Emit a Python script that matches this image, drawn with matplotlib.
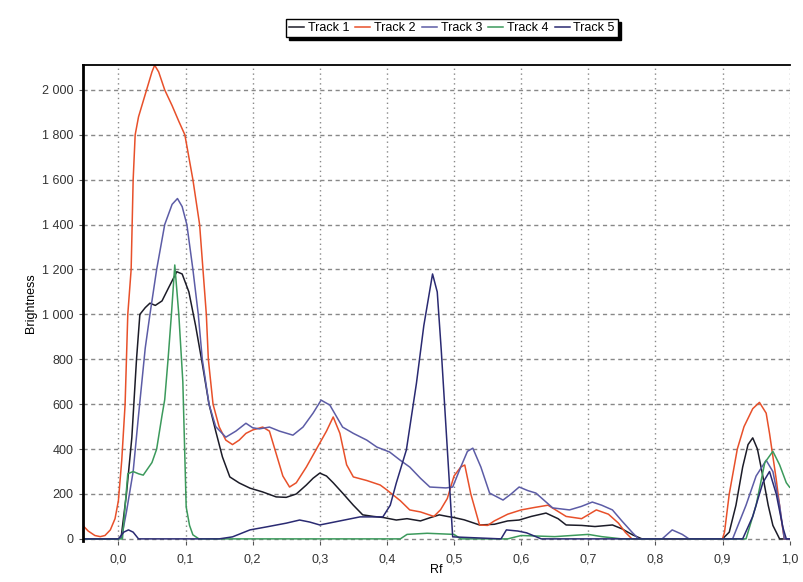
import matplotlib
matplotlib.use("Agg")
import matplotlib.pyplot as plt
from matplotlib.ticker import FuncFormatter, MultipleLocator

plt.rcParams['font.family'] = ['Liberation Sans', 'DejaVu Sans']

labels = ["Track 1", "Track 2", "Track 3", "Track 4", "Track 5"]
colors = ["#1c1c28", "#e8502a", "#5c5ca6", "#3c9a5c", "#2a2a72"]

# Track 1 (black)
x1 = [-0.053, 0.0, 0.004, 0.012, 0.02, 0.027, 0.032, 0.04, 0.047, 0.055, 0.065, 0.075, 0.087,
      0.095, 0.105, 0.115, 0.125, 0.135, 0.145, 0.155, 0.166, 0.18, 0.196, 0.215, 0.235, 0.25,
      0.265, 0.28, 0.29, 0.30, 0.31, 0.32, 0.334, 0.35, 0.364, 0.38, 0.395, 0.414, 0.43, 0.45,
      0.465, 0.478, 0.49, 0.5, 0.515, 0.538, 0.56, 0.58, 0.597, 0.615, 0.637, 0.655, 0.667,
      0.69, 0.71, 0.736, 0.75, 0.766, 0.78, 0.9, 0.91, 0.92, 0.93, 0.938, 0.945, 0.952, 0.96,
      0.968, 0.975, 0.985, 1.0]
y1 = [0, 0, 5, 200, 450, 800, 1000, 1030, 1050, 1040, 1060, 1120, 1190,
      1180, 1100, 950, 780, 600, 480, 365, 276, 249, 226, 209, 187, 185,
      200, 240, 270, 293, 280, 250, 204, 150, 107, 100, 95, 84, 90, 80,
      95, 107, 100, 95, 85, 62, 65, 80, 84, 100, 115, 90, 62,
      60, 55, 62, 45, 18, 0, 0, 30, 150, 320, 420, 450, 400, 280,
      150, 60, 0, 0]

# Track 2 (red)
x2 = [-0.053, -0.045, -0.035, -0.027, -0.02, -0.012, -0.005, 0.0, 0.005, 0.01, 0.014, 0.019,
      0.022, 0.025, 0.03, 0.04, 0.045, 0.05, 0.054, 0.06, 0.069, 0.08, 0.09, 0.099, 0.111,
      0.121, 0.126, 0.131, 0.134, 0.141, 0.15, 0.16, 0.17, 0.18, 0.19, 0.2, 0.215, 0.225,
      0.235, 0.245, 0.255, 0.265, 0.28, 0.295, 0.31, 0.32, 0.33, 0.34, 0.35, 0.37, 0.39, 0.40,
      0.42, 0.434, 0.45, 0.47, 0.48, 0.49, 0.50, 0.51, 0.516, 0.525, 0.538, 0.55, 0.56, 0.58,
      0.6, 0.62, 0.64, 0.667, 0.69, 0.712, 0.73, 0.745, 0.755, 0.765, 0.9, 0.903, 0.91, 0.922,
      0.932, 0.945, 0.955, 0.965, 0.97, 0.98, 0.987, 0.992, 1.0]
y2 = [60, 35, 15, 10, 15, 40, 90, 170, 350, 600, 1000, 1200,
      1600, 1800, 1880, 1980, 2030, 2080, 2110, 2080, 2000, 1930, 1860, 1800, 1600,
      1400, 1200, 1000, 800, 600, 500, 440, 420, 440, 470, 485, 498, 480,
      380, 280, 231, 250, 320, 400, 480, 543, 470, 330, 276, 260, 240, 218,
      170, 129, 120, 100, 130, 180, 280, 320, 329, 200, 62, 60, 80, 110,
      129, 140, 150, 100, 90, 129, 110, 70, 30, 0, 0, 31, 200, 400,
      500, 580, 608, 560, 470, 265, 100, 0, 0]

# Track 3 (blue)
x3 = [-0.053, 0.0, 0.005, 0.012, 0.022, 0.03, 0.04, 0.047, 0.057, 0.069, 0.08, 0.088, 0.095,
      0.102, 0.111, 0.119, 0.125, 0.135, 0.145, 0.16, 0.175, 0.19, 0.2, 0.21, 0.225, 0.24,
      0.26, 0.275, 0.29, 0.302, 0.315, 0.334, 0.35, 0.37, 0.385, 0.404, 0.42, 0.434, 0.45,
      0.464, 0.488, 0.498, 0.51, 0.52, 0.528, 0.54, 0.553, 0.573, 0.585, 0.597, 0.61, 0.622,
      0.647, 0.672, 0.69, 0.706, 0.72, 0.736, 0.75, 0.766, 0.775, 0.81, 0.825, 0.84, 0.85,
      0.915, 0.935, 0.95, 0.965, 0.975, 0.985, 0.992, 1.0]
y3 = [0, 0, 10, 120, 300, 550, 850, 1000, 1200, 1400, 1490, 1516, 1480,
      1400, 1200, 1000, 800, 600, 500, 453, 480, 515, 495, 490, 498, 480,
      462, 498, 560, 618, 596, 498, 470, 440, 409, 387, 350, 320, 270,
      231, 227, 231, 320, 390, 404, 320, 204, 173, 200, 231, 215, 204,
      138, 129, 145, 164, 150, 129, 80, 27, 0, 0, 40, 20, 0,
      0, 150, 280, 350, 300, 150, 0, 0]

# Track 4 (green)
x4 = [-0.053, 0.006, 0.014, 0.022, 0.03, 0.037, 0.05, 0.057, 0.065, 0.069, 0.074, 0.079,
      0.084, 0.09, 0.096, 0.101, 0.106, 0.111, 0.12, 0.42, 0.43, 0.46, 0.5, 0.51, 0.58, 0.6,
      0.65, 0.7, 0.72, 0.75, 0.935, 0.95, 0.963, 0.975, 0.985, 0.995, 1.0]
y4 = [0, 0, 290, 300, 290, 284, 340, 400, 550, 620, 800, 1000,
      1220, 1000, 700, 142, 60, 18, 0, 0, 20, 25, 20, 0, 0, 15,
      10, 20, 10, 0, 0, 150, 340, 390, 330, 250, 230]

# Track 5 (navy)
x5 = [-0.053, 0.0, 0.008, 0.015, 0.022, 0.03, 0.15, 0.17, 0.196, 0.22, 0.25, 0.27, 0.285,
      0.30, 0.33, 0.36, 0.394, 0.405, 0.414, 0.429, 0.444, 0.455, 0.468, 0.475, 0.481, 0.49,
      0.498, 0.57, 0.578, 0.595, 0.608, 0.63, 0.93, 0.945, 0.96, 0.97, 0.98, 0.99, 0.995, 1.0]
y5 = [0, 0, 30, 40, 30, 0, 0, 9, 40, 53, 70, 84, 75,
      62, 80, 98, 98, 150, 249, 396, 693, 950, 1180, 1100, 840, 400,
      9, 0, 40, 35, 27, 0, 0, 100, 250, 300, 200, 50, 0, 0]

tracks = [(x1, y1), (x2, y2), (x3, y3), (x4, y4), (x5, y5)]

fig = plt.figure(figsize=(8.04, 5.82), dpi=100)
ax = fig.add_axes([0.103, 0.071, 0.880, 0.817])

for (xs, ys), lab, col in zip(tracks, labels, colors):
    ax.plot(xs, ys, color=col, lw=1.1, label=lab)

ax.set_xlim(-0.053, 1.001)
ax.set_ylim(-8, 2110)
ax.xaxis.set_major_locator(MultipleLocator(0.1))
ax.yaxis.set_major_locator(MultipleLocator(200))
ax.xaxis.set_major_formatter(FuncFormatter(lambda v, p: f"{v:.1f}".replace(".", ",").replace("-0,0", "0,0")))
ax.yaxis.set_major_formatter(FuncFormatter(lambda v, p: f"{int(round(v)):,}".replace(",", " ")))

ax.grid(axis='x', color='#888888', linestyle=(0, (1, 2.5)), lw=1.0)
ax.grid(axis='y', color='#888888', linestyle=(0, (3, 2.5)), lw=1.0)

for s in ['right', 'bottom']:
    ax.spines[s].set_visible(False)
ax.spines['left'].set_linewidth(2.0)
ax.spines['top'].set_linewidth(1.3)
ax.tick_params(axis='both', labelsize=9, length=3, color='#555555', colors='#333333')
ax.tick_params(axis='x', pad=6)

ax.set_xlabel("Rf", fontsize=9, labelpad=-1)
ax.set_ylabel("Brightness", fontsize=9, labelpad=4)

leg = fig.legend(loc='center', bbox_to_anchor=(0.562, 0.952), ncol=5, fontsize=9,
                 handlelength=1.2, handletextpad=0.3, columnspacing=0.5,
                 frameon=True, fancybox=False, borderpad=0.25,
                 shadow={'color': 'black', 'alpha': 1.0})
leg.get_frame().set_edgecolor('black')
leg.get_frame().set_linewidth(1.0)

fig.savefig("out.png", dpi=100)
